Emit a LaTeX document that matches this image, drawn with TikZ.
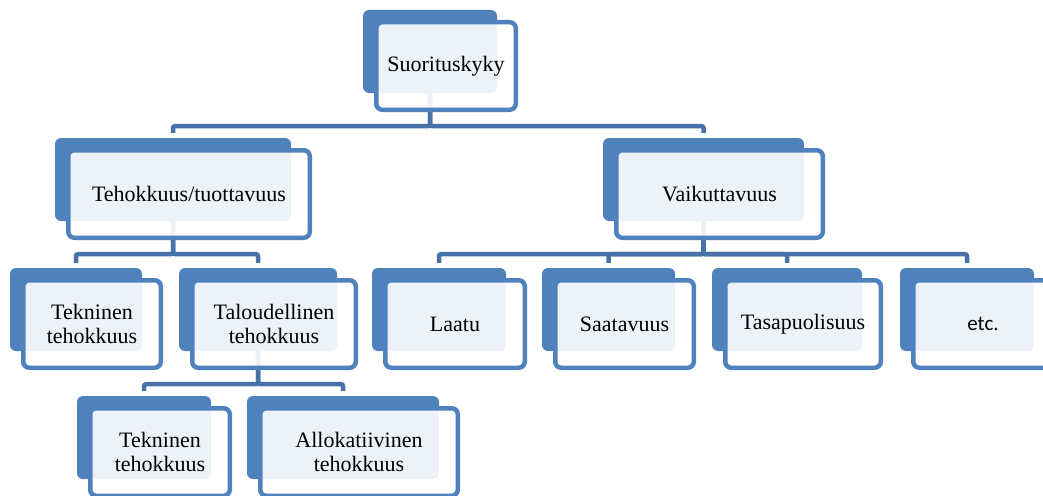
\documentclass[tikz,border=0pt]{standalone}
\usepackage{fontspec}
\setmainfont{Liberation Serif}
\newfontfamily\etcfont{Carlito}
\usepackage{tikz}
\usetikzlibrary{calc}
\definecolor{boxblue}{HTML}{4F81BD}
\definecolor{linkblue}{HTML}{4672A8}
\pgfdeclarelayer{behind}
\pgfsetlayers{behind,main}

\begin{document}
\begin{tikzpicture}[x=1pt,y=-1pt,
    frontbox/.style={draw=boxblue,line width=4.5pt,rounded corners=6pt,fill=white,fill opacity=0.9,
      text opacity=1,align=center,minimum height=87.5pt,inner sep=0pt,
      font=\rmfamily\fontsize{22}{24}\selectfont},
    backbox/.style={fill=boxblue,rounded corners=6pt,minimum height=83pt,inner sep=0pt},
    link/.style={draw=linkblue,line width=4.5pt,rounded corners=2pt,shorten >=5pt}]
    \useasboundingbox (0,0) rectangle (1043,495);
    % boxes: name/x/y/width/text
    \foreach \n/\x/\y/\w/\txt in {sk/446/66/144/Suorituskyky,
        tt/189/194/246/{Tehokkuus/tuottavuus}, va/719.5/194/211/Vaikuttavuus,
        tk1/92/324/142/{Tekninen\\tehokkuus}, ta/274/324/168/{Taloudellinen\\tehokkuus},
        la/455/324/144/Laatu, sa/624.5/324/143/Saatavuus, ts/803/324/160/Tasapuolisuus,
        tk2/160/452/144/{Tekninen\\tehokkuus}, al/359/452/202/{Allokatiivinen\\tehokkuus}} {
      \node[frontbox,minimum width=\w-4.5] (\n) at (\x,\y) {\txt};
      \begin{pgfonlayer}{behind}
        \node[backbox,minimum width=\w-10] (\n-b) at ($(\n)+(-16,-14.5)$) {};
      \end{pgfonlayer}
    }
    \node[frontbox,minimum width=139.5,font=\etcfont\fontsize{21}{24}\selectfont] (et) at (983,324) {etc.};
    \begin{pgfonlayer}{behind}
      \node[backbox,minimum width=134] (et-b) at ($(et)+(-16,-14.5)$) {};
      \foreach \p/\c in {sk/tt,sk/va,tt/tk1,tt/ta,va/la,va/sa,va/ts,va/et,ta/tk2,ta/al}
        \draw[link] (\p-b.south) -- ++(0,33) -| (\c-b.north);
    \end{pgfonlayer}
  \end{tikzpicture}
\end{document}
